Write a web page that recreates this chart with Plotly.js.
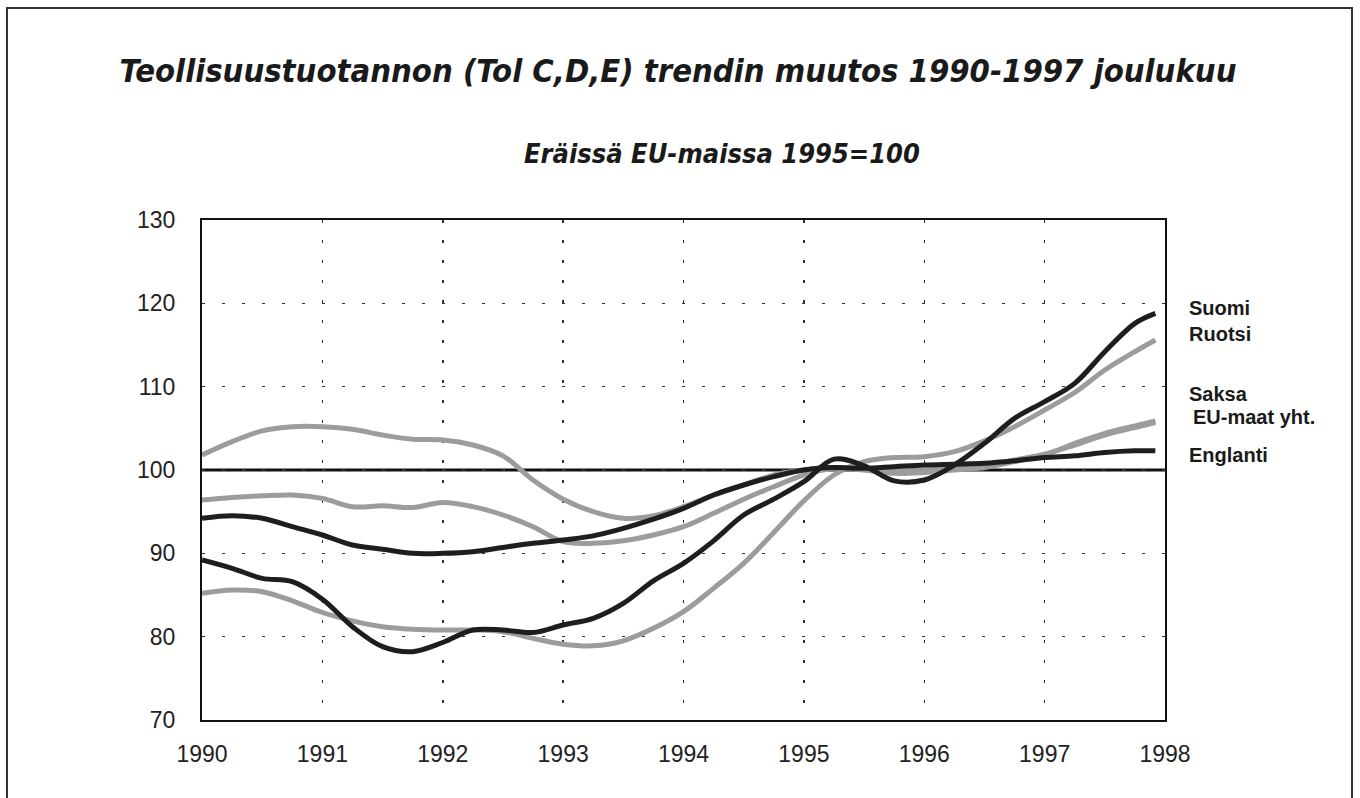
<!DOCTYPE html>
<html>
<head>
<meta charset="utf-8">
<script src="https://cdn.plot.ly/plotly-3.0.1.min.js"></script>
<style>html,body{margin:0;padding:0;background:#fff;}#chart{width:1360px;height:798px;}</style>
</head>
<body>
<div id="chart"></div>
<script>
const years = [1990.00,1990.25,1990.50,1990.75,1991.00,1991.25,1991.50,1991.75,1992.00,1992.25,1992.50,1992.75,1993.00,1993.25,1993.50,1993.75,1994.00,1994.25,1994.50,1994.75,1995.00,1995.25,1995.50,1995.75,1996.00,1996.25,1996.50,1996.75,1997.00,1997.25,1997.50,1997.75,1997.92];

const suomi = [89.2,88.2,87.0,86.6,84.5,81.2,78.8,78.2,79.3,80.8,80.8,80.5,81.4,82.2,84.0,86.7,88.8,91.5,94.6,96.5,98.6,101.3,100.5,98.7,98.8,100.6,103.2,106.2,108.2,110.4,114.2,117.6,118.8];
const ruotsi = [85.2,85.6,85.4,84.3,82.9,81.9,81.2,80.9,80.8,80.8,80.6,79.8,79.1,78.9,79.5,81.0,83.0,85.8,88.8,92.5,96.3,99.4,101.0,101.5,101.6,102.2,103.5,105.2,107.2,109.3,112.0,114.2,115.6];
const saksa = [101.8,103.4,104.7,105.2,105.2,104.9,104.2,103.7,103.6,103.0,101.7,98.8,96.5,95.0,94.2,94.5,95.6,97.0,98.2,99.4,100.0,100.3,100.0,99.6,99.7,100.0,100.3,101.0,101.8,103.2,104.4,105.3,105.9];
const eu = [96.4,96.7,96.9,97.0,96.6,95.6,95.7,95.5,96.1,95.6,94.6,93.2,91.4,91.2,91.5,92.2,93.2,94.8,96.5,98.0,99.4,100.2,100.2,100.0,100.0,100.3,100.6,101.2,101.9,103.0,104.2,105.1,105.7];
const englanti = [94.2,94.5,94.2,93.2,92.2,91.0,90.5,90.0,90.0,90.2,90.7,91.2,91.6,92.1,93.0,94.1,95.4,97.0,98.2,99.2,100.0,100.3,100.2,100.4,100.6,100.7,100.8,101.1,101.5,101.7,102.1,102.3,102.3];

const seriesNames = ["Suomi","Ruotsi","Saksa","EU-maat yht.","Englanti"];
const labelY = [119.5,116.3,109.1,106.4,101.8];
const labelShift = [22,22,22,26,22];

const xTicks = [1990,1991,1992,1993,1994,1995,1996,1997,1998];
const yTicks = [70,80,90,100,110,120,130];

const titleText = "Teollisuustuotannon (Tol C,D,E) trendin muutos 1990-1997 joulukuu";
const subtitleText = "Eräissä EU-maissa 1995=100";

const DARK = "#1e1e1e", GREY = "#9c9c9c";
const W = 5;
const narrow = "'Liberation Sans Narrow', 'DejaVu Sans Condensed', 'Liberation Sans', Arial, sans-serif";
const sans = "'Liberation Sans', Arial, sans-serif";

function tr(y, name, color){
  return {x: years, y: y, name: name, type: "scatter", mode: "lines",
    line: {color: color, width: W, shape: "spline", smoothing: 1}, hoverinfo: "x+y+name"};
}
const data = [
  tr(saksa, seriesNames[2], GREY),
  tr(eu, seriesNames[3], GREY),
  tr(ruotsi, seriesNames[1], GREY),
  tr(englanti, seriesNames[4], DARK),
  tr(suomi, seriesNames[0], DARK)
];

const annotations = seriesNames.map((n,i)=>({
  x: 1998, y: labelY[i], xref: "x", yref: "y", text: "<b>"+n+"</b>",
  showarrow: false, xanchor: "left", yanchor: "middle", xshift: labelShift[i],
  font: {family: sans, size: 20, color: "#1a1a1a"}
}));
annotations.push({
  x: 0.54, y: 1.134, xref: "paper", yref: "paper", xanchor: "center", yanchor: "middle",
  text: "<b><i>"+subtitleText+"</i></b>", showarrow: false,
  font: {family: narrow, size: 27, color: "#1a1a1a"}
});

const layout = {
  width: 1360, height: 798,
  margin: {l: 202, r: 195, t: 220, b: 78},
  paper_bgcolor: "#fff", plot_bgcolor: "#fff",
  showlegend: false,
  title: {text: "<b><i>"+titleText+"</i></b>", x: 0.4985, xanchor: "center", y: 0.912, yanchor: "middle",
    font: {family: narrow, size: 32.5, color: "#1a1a1a"}},
  xaxis: {range: [1990, 1998], tickvals: xTicks, ticktext: xTicks.map(String), ticks: "",
    showgrid: true, gridcolor: "#333", gridwidth: 1.5, griddash: "3px,17px",
    showline: true, linecolor: "#111", linewidth: 2, mirror: true, zeroline: false,
    ticklabelstandoff: 12,
    tickfont: {family: sans, size: 23, color: "#222"}},
  yaxis: {range: [70, 130], tickvals: yTicks, ticktext: yTicks.map(String), ticks: "",
    showgrid: true, gridcolor: "#333", gridwidth: 1.5, griddash: "3px,17px",
    showline: true, linecolor: "#111", linewidth: 2, mirror: true, zeroline: false,
    ticklabelstandoff: 20,
    tickfont: {family: sans, size: 23, color: "#222"}},
  shapes: [
    {type: "line", xref: "paper", x0: 0, x1: 1, yref: "y", y0: 100, y1: 100,
     line: {color: "#111", width: 3}, layer: "below"},
    {type: "rect", xref: "paper", yref: "paper", x0: -0.2025, x1: 1.1942, y0: -0.2, y1: 1.424,
     line: {color: "#333", width: 2}, fillcolor: "rgba(0,0,0,0)"}
  ],
  annotations: annotations
};

Plotly.newPlot("chart", data, layout, {staticPlot: true, displayModeBar: false});
</script>
</body>
</html>
